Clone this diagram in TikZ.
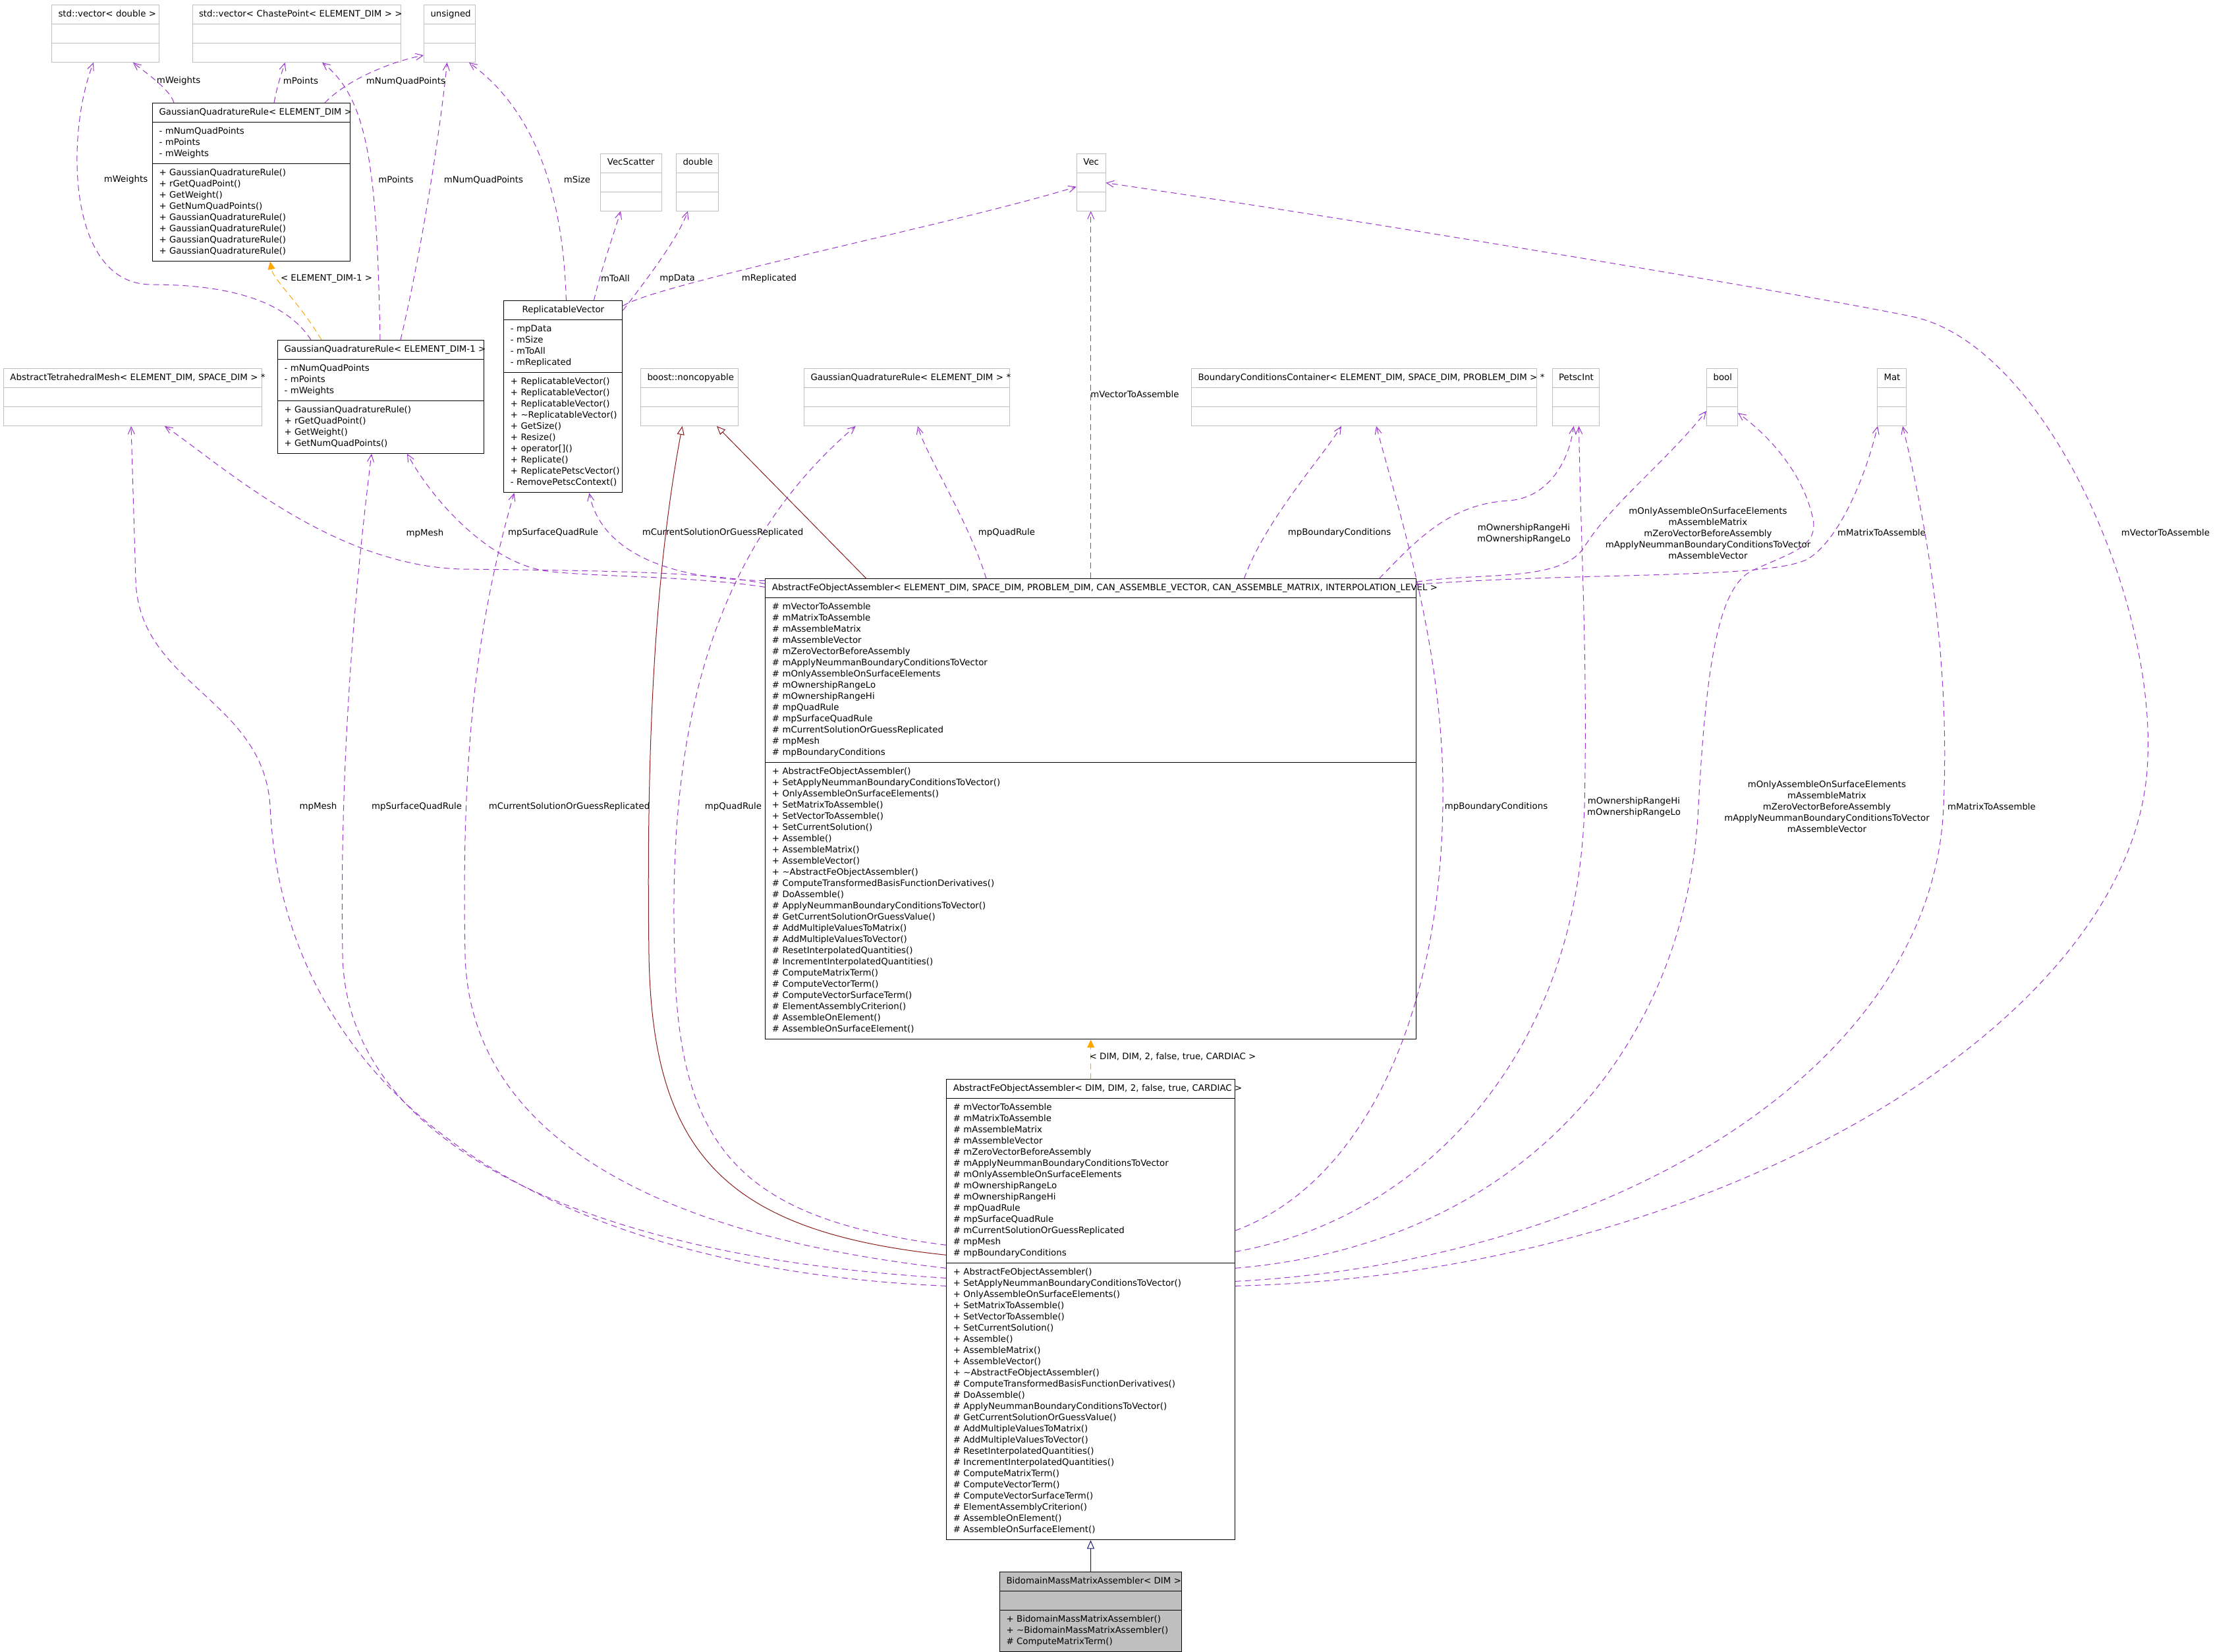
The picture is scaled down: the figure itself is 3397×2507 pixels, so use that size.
\documentclass[tikz,border=0pt]{standalone}
\usepackage{fontspec}
\setmainfont{DejaVu Sans}
\usetikzlibrary{shapes.multipart,arrows.meta,calc}

\definecolor{edgeuse}{HTML}{9A32CD}
\definecolor{edgeinst}{HTML}{FFA500}
\definecolor{edgebase}{HTML}{8B1A1A}
\definecolor{edgederiv}{HTML}{191970}
\definecolor{grey75}{HTML}{BFBFBF}

\newcommand{\dfont}{\fontsize{6.67}{8.5}\selectfont}
\newcommand{\clsname}[1]{\strut\nobreak\hfill\mbox{#1}\nobreak\hfill\strut}
\newcommand{\gqrattrs}{\strut- mNumQuadPoints\\- mPoints\\- mWeights\strut}
\newcommand{\feattrs}{\strut\# mVectorToAssemble\\\# mMatrixToAssemble\\\# mAssembleMatrix\\\# mAssembleVector\\\# mZeroVectorBeforeAssembly\\\# mApplyNeummanBoundaryConditionsToVector\\\# mOnlyAssembleOnSurfaceElements\\\# mOwnershipRangeLo\\\# mOwnershipRangeHi\\\# mpQuadRule\\\# mpSurfaceQuadRule\\\# mCurrentSolutionOrGuessReplicated\\\# mpMesh\\\# mpBoundaryConditions\strut}
\newcommand{\femethods}{\strut+ AbstractFeObjectAssembler()\\+ SetApplyNeummanBoundaryConditionsToVector()\\+ OnlyAssembleOnSurfaceElements()\\+ SetMatrixToAssemble()\\+ SetVectorToAssemble()\\+ SetCurrentSolution()\\+ Assemble()\\+ AssembleMatrix()\\+ AssembleVector()\\+ \textasciitilde AbstractFeObjectAssembler()\\\# ComputeTransformedBasisFunctionDerivatives()\\\# DoAssemble()\\\# ApplyNeummanBoundaryConditionsToVector()\\\# GetCurrentSolutionOrGuessValue()\\\# AddMultipleValuesToMatrix()\\\# AddMultipleValuesToVector()\\\# ResetInterpolatedQuantities()\\\# IncrementInterpolatedQuantities()\\\# ComputeMatrixTerm()\\\# ComputeVectorTerm()\\\# ComputeVectorSurfaceTerm()\\\# ElementAssemblyCriterion()\\\# AssembleOnElement()\\\# AssembleOnSurfaceElement()\strut}

\begin{document}
\begin{tikzpicture}[x=0.5pt,y=-0.5pt,
  cls/.style={rectangle split,rectangle split parts=3,draw=black,line width=0.5pt,
    anchor=north west,inner xsep=5pt,inner ysep=2.75pt,align=left,font=\dfont,text width=#1},
  ext/.style={cls=#1,draw=grey75},
  leaf/.style={cls=#1,fill=grey75},
  uses/.style={draw=edgeuse,line width=0.5pt,dash pattern=on 4.5pt off 3pt,
    -{Straight Barb[length=5.5pt,width=5pt]}},
  inst/.style={draw=edgeinst,line width=0.5pt,dash pattern=on 4.5pt off 3pt,
    -{Triangle[length=6pt,width=5.5pt]}},
  inherit/.style={draw=#1,line width=0.5pt,-{Triangle[open,length=6.5pt,width=5.5pt]}},
  lbl/.style={font=\dfont,inner sep=0pt,align=center}]
\useasboundingbox (0,0) rectangle (3397,2507);

\node[ext=71.5pt] (vecdbl) at (78,7) {\clsname{std::vector< double >}\nodepart{two}\strut\nodepart{three}\strut};
\node[ext=148pt] (vecpt) at (291.5,7) {\clsname{std::vector< ChastePoint< ELEMENT\_DIM > >}\nodepart{two}\strut\nodepart{three}\strut};
\node[ext=29pt] (unsigned) at (643,7) {\clsname{unsigned}\nodepart{two}\strut\nodepart{three}\strut};
\node[cls=140pt] (gqr) at (231,156) {\clsname{GaussianQuadratureRule< ELEMENT\_DIM >}
  \nodepart{two}\gqrattrs
  \nodepart{three}\strut+ GaussianQuadratureRule()\\+ rGetQuadPoint()\\+ GetWeight()\\+ GetNumQuadPoints()\\+ GaussianQuadratureRule()\\+ GaussianQuadratureRule()\\+ GaussianQuadratureRule()\\+ GaussianQuadratureRule()\strut};
\node[cls=146.3pt] (gqrm) at (421,516) {\clsname{GaussianQuadratureRule< ELEMENT\_DIM-1 >}
  \nodepart{two}\gqrattrs
  \nodepart{three}\strut+ GaussianQuadratureRule()\\+ rGetQuadPoint()\\+ GetWeight()\\+ GetNumQuadPoints()\strut};
\node[ext=186pt] (mesh) at (5,559) {\clsname{AbstractTetrahedralMesh< ELEMENT\_DIM, SPACE\_DIM > *}\nodepart{two}\strut\nodepart{three}\strut};
\node[cls=80pt] (repvec) at (764.4,456.4) {\clsname{ReplicatableVector}
  \nodepart{two}\strut- mpData\\- mSize\\- mToAll\\- mReplicated\strut
  \nodepart{three}\strut\mbox{+ ReplicatableVector()}\\\mbox{+ ReplicatableVector()}\\\mbox{+ ReplicatableVector()}\\\mbox{+ \textasciitilde ReplicatableVector()}\\+ GetSize()\\+ Resize()\\+ operator[]()\\+ Replicate()\\\mbox{+ ReplicatePetscVector()}\\\mbox{- RemovePetscContext()}\strut};
\node[ext=36.3pt] (vecscat) at (911,232.5) {\clsname{VecScatter}\nodepart{two}\strut\nodepart{three}\strut};
\node[ext=22pt] (dbl) at (1026,232.5) {\clsname{double}\nodepart{two}\strut\nodepart{three}\strut};
\node[ext=12pt] (vec) at (1633.7,232.5) {\clsname{Vec}\nodepart{two}\strut\nodepart{three}\strut};
\node[ext=63.8pt] (noncopy) at (972,559) {\clsname{boost::noncopyable}\nodepart{two}\strut\nodepart{three}\strut};
\node[ext=145.8pt] (gqrptr) at (1220,559) {\clsname{GaussianQuadratureRule< ELEMENT\_DIM > *}\nodepart{two}\strut\nodepart{three}\strut};
\node[ext=252pt] (bcc) at (1808,559) {\clsname{BoundaryConditionsContainer< ELEMENT\_DIM, SPACE\_DIM, PROBLEM\_DIM > *}\nodepart{two}\strut\nodepart{three}\strut};
\node[ext=25.7pt] (petscint) at (2355.5,559) {\clsname{PetscInt}\nodepart{two}\strut\nodepart{three}\strut};
\node[ext=13.5pt] (bool) at (2590,559) {\clsname{bool}\nodepart{two}\strut\nodepart{three}\strut};
\node[ext=12pt] (mat) at (2849,559) {\clsname{Mat}\nodepart{two}\strut\nodepart{three}\strut};
\node[cls=483.8pt] (afo) at (1161.4,878.4) {\clsname{AbstractFeObjectAssembler< ELEMENT\_DIM, SPACE\_DIM, PROBLEM\_DIM, CAN\_ASSEMBLE\_VECTOR, CAN\_ASSEMBLE\_MATRIX, INTERPOLATION\_LEVEL >}
  \nodepart{two}\feattrs
  \nodepart{three}\femethods};
\node[cls=208.7pt] (afodim) at (1436.3,1638.3) {\clsname{AbstractFeObjectAssembler< DIM, DIM, 2, false, true, CARDIAC >}
  \nodepart{two}\feattrs
  \nodepart{three}\femethods};
\node[leaf=128pt] (bidomain) at (1517,2386) {\clsname{BidomainMassMatrixAssembler< DIM >}
  \nodepart{two}\strut
  \nodepart{three}\strut+ BidomainMassMatrixAssembler()\\+ \textasciitilde BidomainMassMatrixAssembler()\\\# ComputeMatrixTerm()\strut};

\draw[uses] ($(gqr.north west)+(33,0)$) .. controls (258,135) and (218,108) .. ($(vecdbl.south west)+(124,0)$);
\draw[uses] ($(gqr.north west)+(185,0)$) .. controls (421,128) and (428,110) .. ($(vecpt.south west)+(141,0)$);
\draw[uses] ($(gqr.north west)+(262,0)$) .. controls (530,118) and (600,92) .. ($(unsigned.south west)+(0,-11)$);
\draw[uses] ($(gqrm.north west)+(51,0)$) .. controls (430,450) and (330,432) .. (230,432)
  .. controls (100,432) and (100,200) .. ($(vecdbl.south west)+(64,0)$);
\draw[inst] ($(gqrm.north west)+(67,0)$) .. controls (455,460) and (415,425) .. ($(gqr.south west)+(179,0)$);
\draw[uses] ($(gqrm.north west)+(156,0)$) .. controls (572,260) and (560,150) .. ($(vecpt.south west)+(197.5,0)$);
\draw[uses] ($(gqrm.north west)+(187,0)$) .. controls (640,380) and (668,200) .. ($(unsigned.south west)+(35.6,0)$);
\draw[uses] ($(repvec.north west)+(95,0)$) .. controls (855,300) and (815,170) .. ($(unsigned.south west)+(69,0)$);
\draw[uses] ($(repvec.north west)+(137,0)$) .. controls (912,410) and (935,345) .. ($(vecscat.south west)+(31,0)$);
\draw[uses] ($(repvec.north east)+(0,15)$) .. controls (985,420) and (1030,360) .. ($(dbl.south west)+(18,0)$);
\draw[uses] ($(repvec.north east)+(0,8)$) .. controls (1000,430) and (1450,340) .. ($(vec.south west)+(0,-37)$);

\draw[uses] (afo.north) -- (afo.north |- vec.south);
\draw[uses] ($(afo.north west)+(0,8)$) .. controls (1080,868) and (900,866) .. (700,864)
  .. controls (500,858) and (330,700) .. ($(mesh.south west)+(245,0)$);
\draw[uses] ($(afo.north west)+(0,13)$) .. controls (1050,874) and (900,876) .. (830,867)
  .. controls (745,855) and (660,765) .. ($(gqrm.south west)+(197,0)$);
\draw[uses] ($(afo.north west)+(0,3)$) .. controls (1000,880) and (910,830) .. ($(repvec.south west)+(130,0)$);
\draw[inherit=edgebase] ($(afo.north west)+(153.6,0)$) -- ($(noncopy.south west)+(116,0)$);
\draw[uses] ($(afo.north west)+(335.6,0)$) .. controls (1470,790) and (1405,690) .. ($(gqrptr.south west)+(173,0)$);
\draw[uses] ($(afo.north west)+(727,0)$) .. controls (1920,790) and (2010,690) .. ($(bcc.south west)+(228,0)$);
\draw[uses] ($(afo.north west)+(932,0)$) .. controls (2150,820) and (2200,765) .. (2290,760)
  .. controls (2350,756) and (2382,700) .. ($(petscint.south west)+(33,0)$);
\draw[uses] ($(afo.north east)+(0,5)$) .. controls (2250,868) and (2370,885) .. (2405,830)
  .. controls (2445,765) and (2530,700) .. ($(bool.south west)+(0,-23)$);
\draw[uses] ($(afo.north east)+(0,9)$) .. controls (2400,868) and (2690,880) .. (2745,848)
  .. controls (2790,820) and (2830,730) .. ($(mat.south west)+(1,0)$);

\draw[uses] ($(afodim.north west)+(0,252)$) .. controls (1130,1850) and (1028,1750) .. (1024,1450)
  .. controls (1015,1150) and (1060,850) .. ($(gqrptr.south west)+(78.6,0)$);
\draw[inherit=edgebase] ($(afodim.north west)+(0,267)$) .. controls (1100,1870) and (990,1750) .. (985,1450)
  .. controls (981,1150) and (992,880) .. ($(noncopy.south west)+(63.6,0)$);
\draw[uses] ($(afodim.north west)+(0,287)$) .. controls (950,1870) and (712,1700) .. (706,1450)
  .. controls (700,1150) and (722,950) .. ($(repvec.south west)+(16,0)$);
\draw[uses] ($(afodim.north west)+(0,302)$) .. controls (850,1905) and (525,1720) .. (520,1450)
  .. controls (515,1150) and (540,880) .. ($(gqrm.south west)+(143,0)$);
\draw[uses] ($(afodim.north west)+(0,314)$) .. controls (800,1925) and (430,1650) .. (410,1224)
  .. controls (400,1060) and (210,1040) .. (206,880) -- ($(mesh.south west)+(194,0)$);
\draw[uses] ($(afodim.north east)+(0,230)$) .. controls (2060,1800) and (2185,1560) .. (2190,1224)
  .. controls (2194,1000) and (2130,800) .. ($(bcc.south west)+(281,0)$);
\draw[uses] ($(afodim.north east)+(0,262)$) .. controls (2160,1850) and (2395,1600) .. (2405,1224)
  .. controls (2410,1000) and (2400,850) .. ($(petscint.south west)+(41,0)$);
\draw[uses] ($(afodim.north east)+(0,287)$) .. controls (2300,1890) and (2560,1600) .. (2578,1224)
  .. controls (2590,1000) and (2610,890) .. (2660,866) .. controls (2720,838) and (2765,830) .. (2750,780)
  .. controls (2735,720) and (2690,665) .. ($(bool.south east)+(0,-20)$);
\draw[uses] ($(afodim.north east)+(0,307)$) .. controls (2450,1915) and (2935,1620) .. (2950,1224)
  .. controls (2960,1000) and (2925,800) .. ($(mat.south west)+(39,0)$);
\draw[uses] ($(afodim.north east)+(0,314)$) .. controls (2600,1935) and (3250,1550) .. (3260,1150)
  .. controls (3270,900) and (3100,520) .. (2900,480) .. controls (2700,440) and (2100,340) .. ($(vec.south east)+(0,-43)$);

\draw[inst] (afodim.north) -- (afo.south);
\draw[inherit=edgederiv] (bidomain.north) -- (afodim.south);

\node[lbl] (l-w1) at (271,123) {mWeights};
\node[lbl] (l-p1) at (456.5,123) {mPoints};
\node[lbl] (l-n1) at (616,123) {mNumQuadPoints};
\node[lbl] (l-w2) at (191,273) {mWeights};
\node[lbl] (l-p2) at (601,273) {mPoints};
\node[lbl] (l-n2) at (734,273) {mNumQuadPoints};
\node[lbl] (l-size) at (876,273) {mSize};
\node[lbl] (l-tmpl1) at (495.5,423) {< ELEMENT\_DIM-1 >};
\node[lbl] (l-toall) at (934,423) {mToAll};
\node[lbl] (l-data) at (1028,423) {mpData};
\node[lbl] (l-repl) at (1167.5,423) {mReplicated};
\node[lbl] (l-vta1) at (1722.5,599) {mVectorToAssemble};

\node[lbl] (l-mesh1) at (645,810) {mpMesh};
\node[lbl] (l-sqr1) at (839.5,809) {mpSurfaceQuadRule};
\node[lbl] (l-cur1) at (1097,809) {mCurrentSolutionOrGuessReplicated};
\node[lbl] (l-qr1) at (1528,809) {mpQuadRule};
\node[lbl] (l-bc1) at (2033,809) {mpBoundaryConditions};
\node[lbl] (l-own1) at (2313,810.5) {mOwnershipRangeHi\\mOwnershipRangeLo};
\node[lbl] (l-flags1) at (2592.5,809.5) {mOnlyAssembleOnSurfaceElements\\mAssembleMatrix\\mZeroVectorBeforeAssembly\\mApplyNeummanBoundaryConditionsToVector\\mAssembleVector};
\node[lbl] (l-mta1) at (2856,809) {mMatrixToAssemble};
\node[lbl] (l-vta2) at (3287,809) {mVectorToAssemble};

\node[lbl] (l-mesh2) at (483,1225) {mpMesh};
\node[lbl] (l-sqr2) at (632.5,1225) {mpSurfaceQuadRule};
\node[lbl] (l-cur2) at (864,1225) {mCurrentSolutionOrGuessReplicated};
\node[lbl] (l-qr2) at (1113,1225) {mpQuadRule};
\node[lbl] (l-bc2) at (2271,1225) {mpBoundaryConditions};
\node[lbl] (l-own2) at (2480,1225.5) {mOwnershipRangeHi\\mOwnershipRangeLo};
\node[lbl] (l-flags2) at (2773,1224.7) {mOnlyAssembleOnSurfaceElements\\mAssembleMatrix\\mZeroVectorBeforeAssembly\\mApplyNeummanBoundaryConditionsToVector\\mAssembleVector};
\node[lbl] (l-mta2) at (3023,1225) {mMatrixToAssemble};
\node[lbl] (l-tmpl2) at (1780,1604) {< DIM, DIM, 2, false, true, CARDIAC >};
\end{tikzpicture}
\end{document}
